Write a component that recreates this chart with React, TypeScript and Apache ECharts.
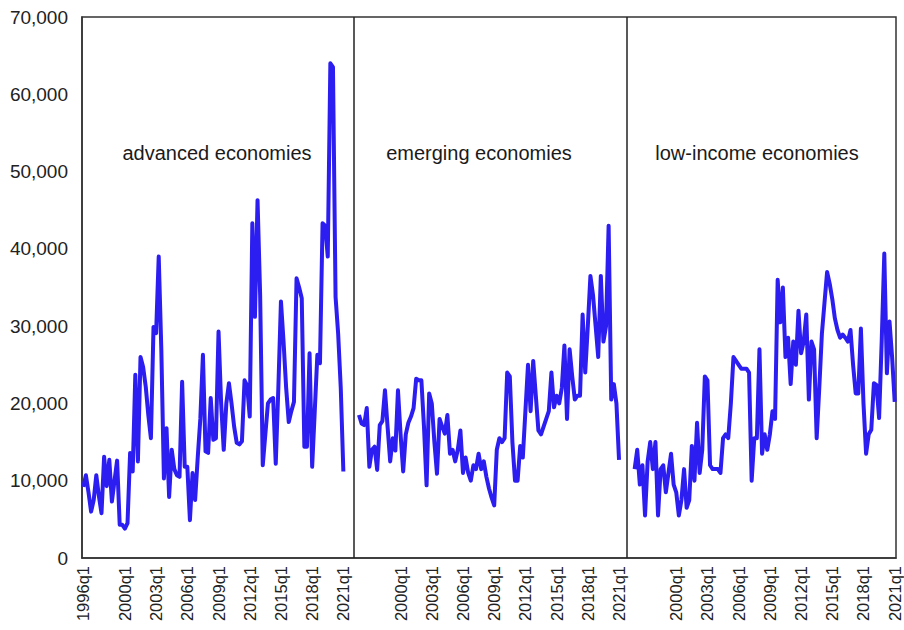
import React, { useEffect, useRef } from "react";
import * as echarts from "echarts";

// quarterly categories 1996q1 .. 2021q1
const years = Array.from({ length: 26 }, (_, i) => 1996 + i);
const quarters: string[] = [];
years.forEach((y) => {
  for (let q = 1; q <= 4; q++) {
    if (y === 2021 && q > 1) break;
    quarters.push(`${y}q${q}`);
  }
});

const panelTitles = ["advanced economies", "emerging economies", "low-income economies"];
const labelsPanel1 = ["1996q1", "2000q1", "2003q1", "2006q1", "2009q1", "2012q1", "2015q1", "2018q1", "2021q1"];
const labelsPanelOther = ["2000q1", "2003q1", "2006q1", "2009q1", "2012q1", "2015q1", "2018q1", "2021q1"];
const yTicks = { min: 0, max: 70000, interval: 10000 };

const advanced = [
  9200, 10700, 8500, 6000, 7500, 10700, 8000, 5800, 13100, 9300,
  12700, 7300, 10000, 12600, 4300, 4300, 3800, 4500, 13600, 11200,
  23700, 12500, 26000, 24700, 22200, 18500, 15500, 29900, 29100, 39000,
  27000, 10300, 16800, 7900, 14000, 11500, 10700, 10500, 22800, 11800,
  11800, 4900, 11000, 7500, 13000, 18000, 26300, 13800, 13600, 20700,
  15300, 15500, 29300, 20000, 14000, 20000, 22600, 20000, 17000, 14900,
  14700, 15100, 23000, 22300, 18300, 43300, 31200, 46300, 34000, 12000,
  16000, 20000, 20500, 20700, 12200, 22000, 33200, 28000, 22000, 17600,
  19000, 20200, 36200, 35000, 33600, 14400, 14400, 26500, 11800, 19000,
  26300, 25200, 43300, 43000, 39000, 64000, 63500, 33800, 29000, 22000,
  11200,
];

const emerging = [
  18500, 17400, 17200, 19400, 11800, 14000, 14400, 11400, 17200, 17700,
  21700, 17000, 12500, 15500, 13900, 21700, 16000, 11200, 16000, 17500,
  18300, 19400, 23200, 23000, 23000, 17000, 9400, 21300, 20000, 15000,
  10900, 18000, 17000, 16100, 18500, 13500, 14000, 12500, 14000, 16500,
  11000, 13000, 11000, 10000, 12000, 11500, 13500, 11500, 12500, 10500,
  9000, 7800, 6800, 14000, 15500, 15000, 15500, 24000, 23500, 15000,
  10000, 10000, 14500, 13000, 19000, 25000, 19000, 25500, 21000, 16500,
  16000, 17000, 18000, 19000, 24000, 19500, 21000, 20000, 22000, 27500,
  18000, 27000, 23500, 20500, 21000, 21000, 31500, 24000, 30000, 36500,
  34000, 30000, 26000, 36500, 28000, 30000, 43000, 20500, 22500, 20000,
  12700,
];

const lowIncome = [
  11500, 14000, 9500, 12000, 5500, 12500, 15000, 11500, 15000, 5500,
  11500, 12000, 8500, 11000, 13500, 9500, 8500, 5500, 7500, 11500,
  6500, 7500, 14500, 10000, 17500, 11000, 14000, 23500, 23000, 12000,
  11500, 11500, 11500, 11000, 15500, 16000, 15500, 20000, 26000, 25500,
  25000, 24500, 24500, 24500, 24000, 10000, 15500, 15500, 27000, 13500,
  16000, 14000, 16000, 19000, 18000, 36000, 30500, 35000, 26000, 28500,
  22500, 28000, 25000, 32000, 26500, 28000, 31500, 20500, 28000, 27000,
  15500, 22000, 29000, 33000, 37000, 35500, 33500, 31000, 29500, 28500,
  28900, 28500, 28000, 29500, 25000, 21300, 21300, 29700, 20000, 13500,
  16000, 16600, 22600, 22400, 18100, 28000, 39400, 23900, 30600, 26000,
  20200,
];

const GAP = 5;
const gapCats = (tag: string) => Array.from({ length: GAP }, (_, i) => `${tag}|g${i}`);

export default function App() {
  const ref = useRef<HTMLDivElement>(null);
  useEffect(() => {
    if (!ref.current) return;
    const chart = echarts.init(ref.current, null, { renderer: "svg" });

    const cats = [
      ...quarters.map((q) => `A|${q}`),
      ...gapCats("G1"),
      ...quarters.map((q) => `E|${q}`),
      ...gapCats("G2"),
      ...quarters.map((q) => `L|${q}`),
    ];
    const n = quarters.length;
    const blank = (k: number) => Array(k).fill(null);
    const s1 = [...advanced, ...blank(cats.length - n)];
    const s2 = [...blank(n + GAP), ...emerging, ...blank(GAP + n)];
    const s3 = [...blank(2 * (n + GAP)), ...lowIncome];

    const shown = new Set<string>([
      ...labelsPanel1.map((q) => `A|${q}`),
      ...labelsPanelOther.map((q) => `E|${q}`),
      ...labelsPanelOther.map((q) => `L|${q}`),
    ]);

    const font = "Liberation Sans, Arial, sans-serif";
    const lineColor = "#2c1df0";
    const mkSeries = (name: string, data: (number | null)[], extra: any = {}) => ({
      name,
      type: "line",
      data,
      showSymbol: false,
      symbol: "none",
      connectNulls: false,
      lineStyle: { color: lineColor, width: 4, join: "round" },
      itemStyle: { color: lineColor },
      ...extra,
    });
    const title = (i: number, x: number) => ({
      type: "text",
      x,
      y: 153,
      style: { text: panelTitles[i], fontSize: 20, fill: "#1a1a1a", fontFamily: font, align: "center", verticalAlign: "middle" },
    });

    chart.setOption({
      animation: false,
      backgroundColor: "#ffffff",
      grid: {
        left: 82,
        right: 8,
        top: 17,
        bottom: 72,
        show: true,
        borderColor: "#333333",
        borderWidth: 1.5,
        containLabel: false,
      },
      xAxis: {
        type: "category",
        data: cats,
        boundaryGap: true,
        axisLine: { show: true, lineStyle: { color: "#333333", width: 1.5 } },
        axisTick: { show: false },
        splitLine: { show: false },
        axisLabel: {
          rotate: 90,
          interval: (_idx: number, value: string) => shown.has(value),
          formatter: (value: string) => value.split("|")[1],
          fontSize: 16.5,
          color: "#222222",
          fontFamily: font,
          margin: 8,
        },
      },
      yAxis: {
        type: "value",
        min: yTicks.min,
        max: yTicks.max,
        interval: yTicks.interval,
        axisLine: { show: true, lineStyle: { color: "#333333", width: 1.5 } },
        axisTick: { show: false },
        splitLine: { show: false },
        axisLabel: {
          formatter: (v: number) => v.toLocaleString("en-US"),
          fontSize: 19,
          color: "#222222",
          fontFamily: font,
          margin: 14,
        },
      },
      graphic: [title(0, 217), title(1, 479), title(2, 757)],
      series: [
        mkSeries(panelTitles[0], s1, {
          markLine: {
            silent: true,
            symbol: ["none", "none"],
            label: { show: false },
            lineStyle: { color: "#222222", width: 1.5, type: "solid" },
            data: [{ xAxis: "G1|g3" }, { xAxis: "G2|g2" }],
          },
        }),
        mkSeries(panelTitles[1], s2),
        mkSeries(panelTitles[2], s3),
      ],
    });

    return () => chart.dispose();
  }, []);

  return (
    <div
      ref={ref}
      style={{ position: "fixed", left: 0, top: 0, width: 904, height: 630, background: "#fff" }}
    />
  );
}
